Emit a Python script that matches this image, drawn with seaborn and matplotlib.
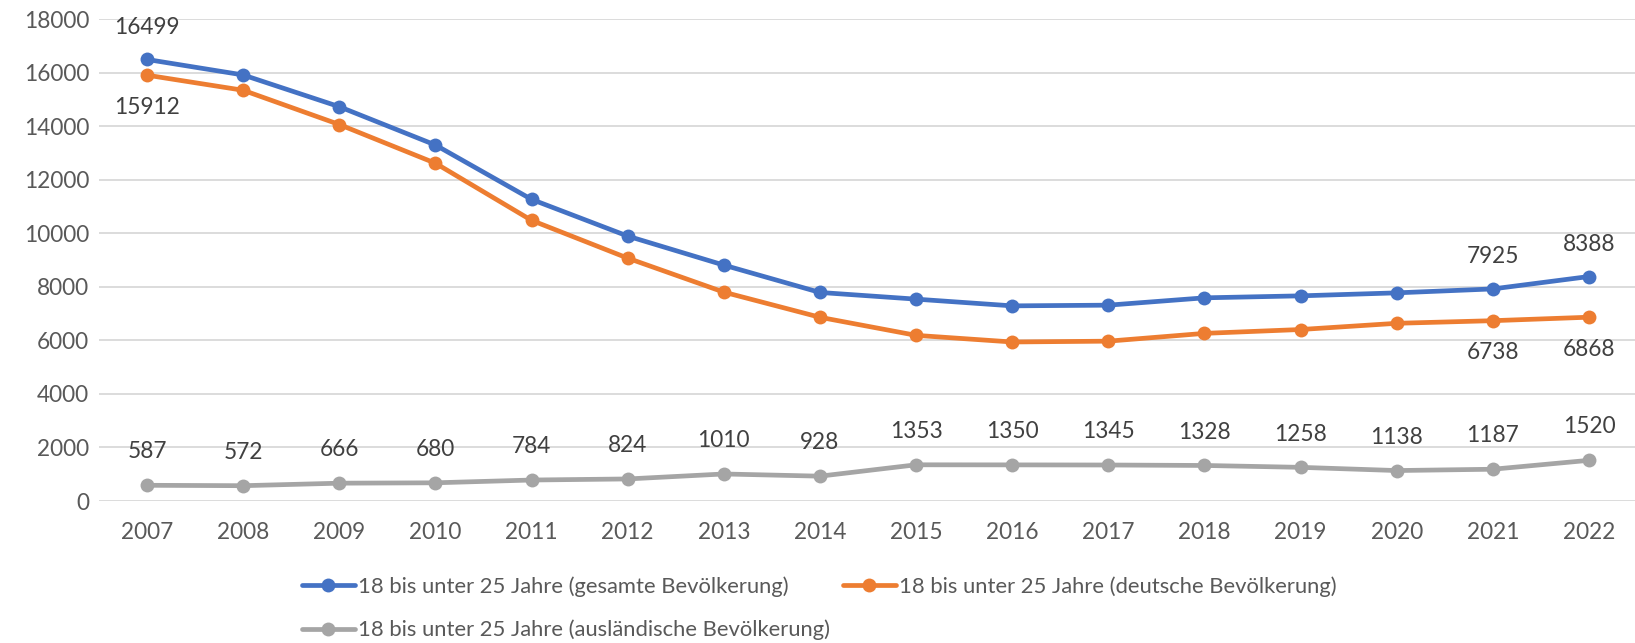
import matplotlib
matplotlib.use("Agg")
import matplotlib.pyplot as plt
import seaborn as sns
import pandas as pd

years = [2007, 2008, 2009, 2010, 2011, 2012, 2013, 2014, 2015, 2016, 2017, 2018, 2019, 2020, 2021, 2022]
gesamt = [16499, 15920, 14734, 13302, 11271, 9899, 8815, 7793, 7543, 7292, 7318, 7592, 7666, 7778, 7925, 8388]
deutsch = [15912, 15348, 14068, 12622, 10487, 9075, 7805, 6865, 6190, 5942, 5973, 6264, 6408, 6640, 6738, 6868]
auslaendisch = [587, 572, 666, 680, 784, 824, 1010, 928, 1353, 1350, 1345, 1328, 1258, 1138, 1187, 1520]

names = ["18 bis unter 25 Jahre (gesamte Bevölkerung)",
         "18 bis unter 25 Jahre (deutsche Bevölkerung)",
         "18 bis unter 25 Jahre (ausländische Bevölkerung)"]
colors = ["#4472C4", "#ED7D31", "#A5A5A5"]
yticks = [0, 2000, 4000, 6000, 8000, 10000, 12000, 14000, 16000, 18000]

sns.set_theme(style="white")
plt.rcParams['font.family'] = ['Lato', 'DejaVu Sans']

fig = plt.figure(figsize=(16.35, 6.43), dpi=100)
ax = fig.add_axes([99/1635, 1 - 501/643, (1637 - 99)/1635, (501 - 19.3)/643])

series = [gesamt, deutsch, auslaendisch]
frames = []
for n, s in zip(names, series):
    frames.append(pd.DataFrame({"Jahr": years, "Wert": s, "Reihe": n}))
df = pd.concat(frames, ignore_index=True)

for n, c in zip(names, colors):
    sub = df[df["Reihe"] == n]
    sns.lineplot(data=sub, x="Jahr", y="Wert", ax=ax, color=c, linewidth=3.4,
                 marker="o", markersize=10, markeredgewidth=0, label=n, zorder=3)

ax.set_xlim(years[0] - 0.5, years[-1] + 0.5)
ax.set_ylim(0, 18000)
ax.set_yticks(yticks)
ax.set_yticklabels([str(v) for v in yticks])
ax.set_xticks(years)
ax.set_xticklabels([str(y) for y in years])
ax.grid(axis="y", color="#D9D9D9", linewidth=1.3, zorder=0)
ax.grid(axis="x", visible=False)
for sp in ax.spines.values():
    sp.set_visible(False)
ax.tick_params(axis="both", length=0, labelsize=16.3, labelcolor="#595959")
ax.tick_params(axis="x", pad=15)
ax.tick_params(axis="y", pad=7)
ax.set_xlabel("")
ax.set_ylabel("")

lab_kw = dict(textcoords="offset points", ha="center", va="center",
              fontsize=16.3, color="#404040")
for x, v in zip(years, auslaendisch):
    ax.annotate(str(v), (x, v), xytext=(0, 24), **lab_kw)
for i in [0, 14, 15]:
    ax.annotate(str(gesamt[i]), (years[i], gesamt[i]), xytext=(0, 23), **lab_kw)
    ax.annotate(str(deutsch[i]), (years[i], deutsch[i]), xytext=(0, -23), **lab_kw)

if ax.get_legend():
    ax.get_legend().remove()
handles, labels = ax.get_legend_handles_labels()
order = [0, 2, 1]
leg = fig.legend([handles[i] for i in order], [labels[i] for i in order],
                 loc="upper left", bbox_to_anchor=(302/1635, 1 - 576/643),
                 ncol=2, frameon=False, fontsize=15.8, handlelength=2.4,
                 handletextpad=0.15, columnspacing=0.6, labelspacing=1.05,
                 borderaxespad=0, borderpad=0)
for t in leg.get_texts():
    t.set_color("#595959")

fig.savefig("out.png", dpi=100)
